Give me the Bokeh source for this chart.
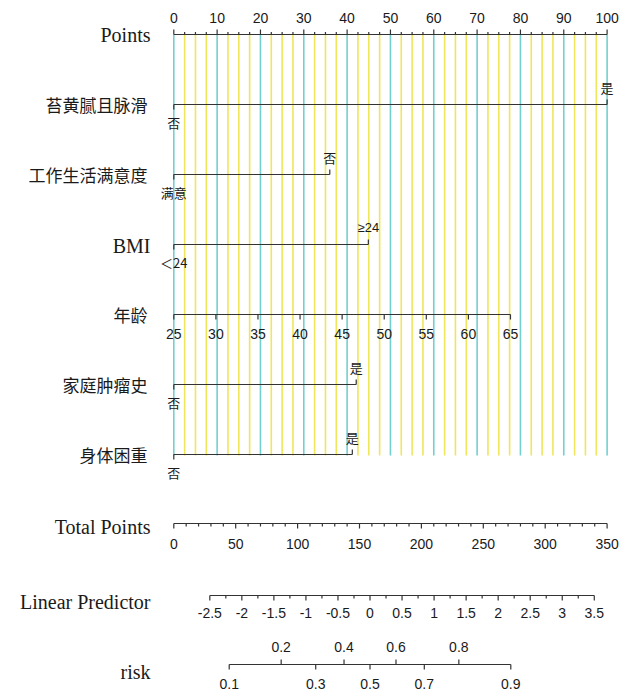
import math
from bokeh.plotting import figure
from bokeh.models import Range1d
from bokeh.core.properties import value
from bokeh.embed import file_html
from bokeh.resources import INLINE

# ---------------- data ----------------
points_major = [0, 10, 20, 30, 40, 50, 60, 70, 80, 90, 100]
points_minor = [i * 2.5 for i in range(41)]

var_labels = ["苔黄腻且脉滑", "工作生活满意度", "BMI", "年龄", "家庭肿瘤史", "身体困重"]
binary_vars = ["苔黄腻且脉滑", "工作生活满意度", "BMI", "家庭肿瘤史", "身体困重"]
binary_low = ["否", "满意", "＜24", "否", "否"]
binary_high = ["是", "否", "≥24", "是", "是"]
binary_points = [100.0, 36.0, 44.9, 42.1, 41.2]

age_ticks = [25, 30, 35, 40, 45, 50, 55, 60, 65]
age_points_max = 77.7  # points at age 65 (age 25 = 0 points)

total_major = [0, 50, 100, 150, 200, 250, 300, 350]
total_minor = list(range(0, 351, 10))
total_max = 350

lp_major = [-2.5, -2, -1.5, -1, -0.5, 0, 0.5, 1, 1.5, 2, 2.5, 3, 3.5]
lp_minor = [-2.5 + 0.25 * i for i in range(25)]
lp_intercept = -3.062   # linear predictor at 0 total points
lp_slope = 0.01932      # linear predictor per total point

risk_upper = [0.2, 0.4, 0.6, 0.8]
risk_lower = [0.1, 0.3, 0.5, 0.7, 0.9]

# ---------------- mappings ----------------
def tp_to_pts(tp):
    return tp * 100.0 / total_max

def lp_to_pts(lp):
    return tp_to_pts((lp - lp_intercept) / lp_slope)

def risk_to_pts(r):
    return lp_to_pts(math.log(r / (1 - r)))

def age_to_pts(a):
    return (a - age_ticks[0]) / (age_ticks[-1] - age_ticks[0]) * age_points_max

# ---------------- layout ----------------
W, H = 631, 694
X0, XU = 173.3, 4.333   # pixel of 0 points, pixels per point
p = figure(width=W, height=H, output_backend="svg", toolbar_location=None,
           x_range=Range1d(-X0 / XU, (W - X0) / XU), y_range=Range1d(H, 0),
           min_border=0)
p.axis.visible = False
p.grid.visible = False
p.outline_line_color = None
p.background_fill_color = "white"
p.border_fill_color = "white"

ROW_POINTS = 34
ROWS = [104, 174, 244, 314, 384, 454]
ROW_TOTAL = 523
ROW_LP = 595
ROW_RISK = 664
LABEL_X = (150 - X0) / XU
CJK_X = (147 - X0) / XU

LINE_COL = "#333333"
TXT_COL = "#1a1a1a"
NUM_FONT = value("Liberation Sans")
SERIF = value("Liberation Serif")
CJK = value("Noto Sans CJK SC")

# colored reference lines
cyan = [v for v in points_minor if v % 10 == 0]
yellow = [v for v in points_minor if v % 10 != 0]
p.segment(x0=yellow, y0=[ROW_POINTS] * len(yellow), x1=yellow, y1=[ROWS[-1] + 1] * len(yellow),
          line_color="#efe65c", line_width=1.6)
p.segment(x0=cyan, y0=[ROW_POINTS] * len(cyan), x1=cyan, y1=[ROWS[-1] + 1] * len(cyan),
          line_color="#74cfcf", line_width=1.6)

def hline(x0, x1, y):
    p.segment(x0=[x0], y0=[y], x1=[x1], y1=[y], line_color=LINE_COL, line_width=1.2)

def ticks(xs, y, length):
    p.segment(x0=xs, y0=[y] * len(xs), x1=xs, y1=[y + length] * len(xs),
              line_color=LINE_COL, line_width=1.2)

def labels(xs, y, texts, font=NUM_FONT, size="14px", align="center"):
    p.text(x=xs, y=[y] * len(xs), text=texts, text_align=align, text_baseline="middle",
           text_font=font, text_font_size=size, text_color=TXT_COL)

# Points axis
hline(0, 100, ROW_POINTS)
ticks(points_major, ROW_POINTS, -5)
ticks([v for v in points_minor if v % 10 != 0], ROW_POINTS, -2.5)
labels(points_major, ROW_POINTS - 17, [str(v) for v in points_major])

# binary variables
brows = [ROWS[0], ROWS[1], ROWS[2], ROWS[4], ROWS[5]]
for y, lo, hi, pts in zip(brows, binary_low, binary_high, binary_points):
    hline(0, pts, y)
    ticks([pts], y, -5)
    ticks([0], y, 5)
    fnt = NUM_FONT if hi.startswith("≥") else CJK
    labels([pts], y - 17, [hi], font=fnt, size="13px")
    labels([0], y + 18, [lo], font=CJK, size="13px")

# age
ya = ROWS[3]
age_x = [age_to_pts(a) for a in age_ticks]
hline(age_x[0], age_x[-1], ya)
ticks(age_x, ya, 5)
labels(age_x, ya + 19, [str(a) for a in age_ticks])

# Total points
hline(0, tp_to_pts(total_max), ROW_TOTAL)
ticks([tp_to_pts(v) for v in total_major], ROW_TOTAL, 5)
ticks([tp_to_pts(v) for v in total_minor if v % 50 != 0], ROW_TOTAL, 3)
labels([tp_to_pts(v) for v in total_major], ROW_TOTAL + 20, [str(v) for v in total_major])

# Linear predictor
hline(lp_to_pts(lp_major[0]), lp_to_pts(lp_major[-1]), ROW_LP)
ticks([lp_to_pts(v) for v in lp_major], ROW_LP, 5)
ticks([lp_to_pts(v) for v in lp_minor if abs(v * 2 - round(v * 2)) > 1e-9], ROW_LP, 3)
labels([lp_to_pts(v) for v in lp_major], ROW_LP + 17, ["%g" % v for v in lp_major])

# risk
hline(risk_to_pts(risk_lower[0]), risk_to_pts(risk_lower[-1]), ROW_RISK)
ticks([risk_to_pts(v) for v in risk_lower], ROW_RISK, 5)
ticks([risk_to_pts(v) for v in risk_upper], ROW_RISK, -5)
labels([risk_to_pts(v) for v in risk_lower], ROW_RISK + 19, ["%g" % v for v in risk_lower])
labels([risk_to_pts(v) for v in risk_upper], ROW_RISK - 18, ["%g" % v for v in risk_upper])

# left labels
labels([LABEL_X], ROW_POINTS, ["Points"], font=SERIF, size="20px", align="right")
for y, name in zip(ROWS, var_labels):
    if name == "BMI":
        labels([LABEL_X], y + 1, [name], font=SERIF, size="20px", align="right")
    else:
        labels([CJK_X], y, [name], font=CJK, size="17px", align="right")
labels([LABEL_X], ROW_TOTAL + 3, ["Total Points"], font=SERIF, size="20px", align="right")
labels([LABEL_X], ROW_LP + 6, ["Linear Predictor"], font=SERIF, size="20px", align="right")
labels([LABEL_X], ROW_RISK + 7, ["risk"], font=SERIF, size="20px", align="right")

open("out.html", "w").write(file_html(p, INLINE))
